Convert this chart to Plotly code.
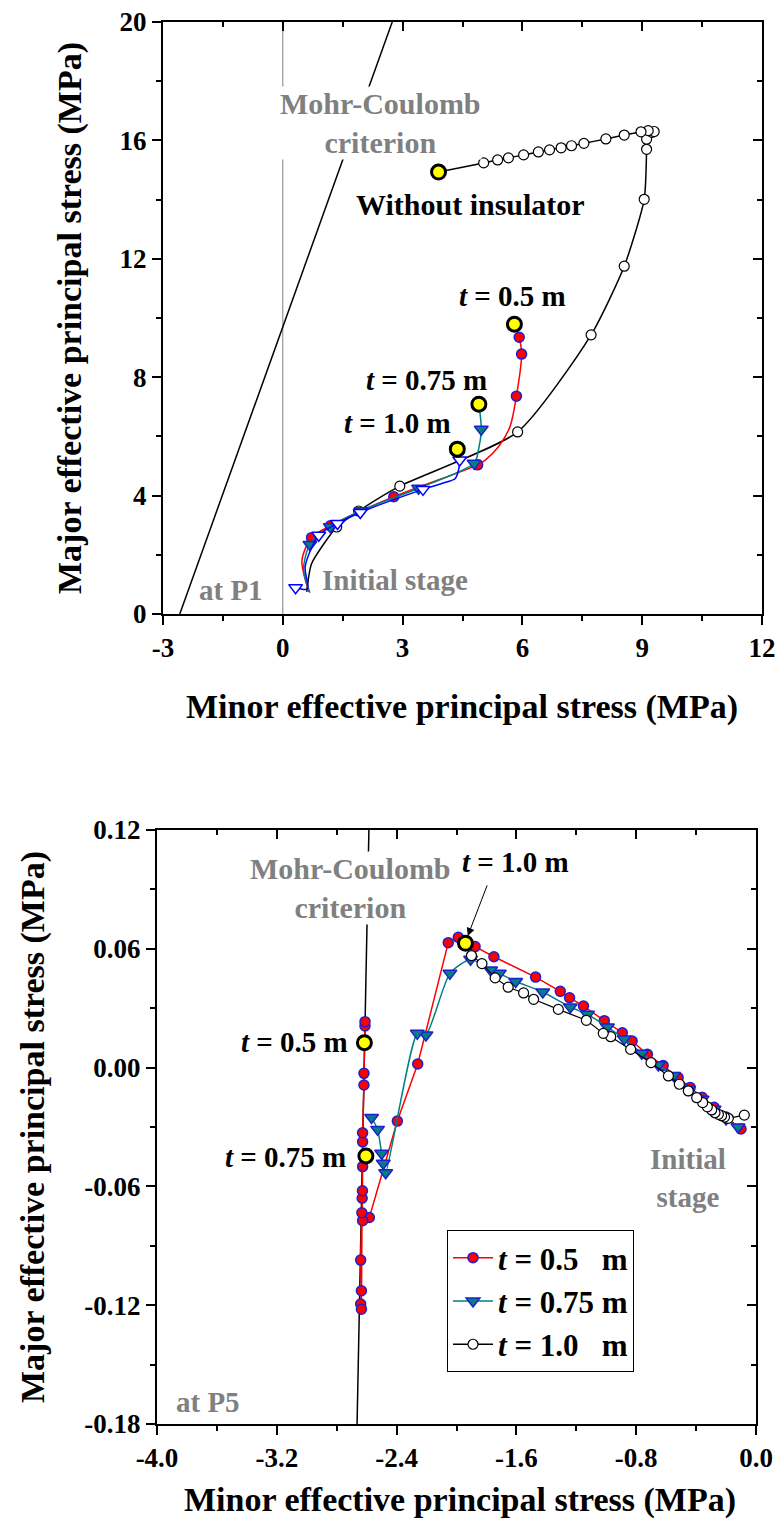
import plotly.graph_objects as go

FONT = "Liberation Serif"
RED = "#ff0000"
TEAL = "#008080"
BLUE = "#0000ff"
EDGE = "#1f1fd0"
GREY = "#808080"

# ================= Top panel (at P1) =================
p1_mc_x = [-2.58, 2.74]
p1_mc_y = [0.0, 20.0]
p1_zero_x = [0.0, 0.0]
p1_zero_y = [0.0, 20.0]

# Without insulator (black line, open circles)
noins_line_x = [0.6, 0.72, 1.35, 1.9, 2.93, 5.88, 7.72, 8.55, 9.05, 9.11, 9.11, 9.25, 9.3, 9.15,
                8.97, 8.55, 8.09, 7.54, 7.23, 6.97, 6.68, 6.4, 6.03, 5.65, 5.38, 5.03, 3.9]
noins_line_y = [0.75, 1.7, 2.94, 3.48, 4.32, 6.15, 9.43, 11.75, 14.01, 15.7, 16.04, 16.27, 16.3, 16.33,
                16.29, 16.18, 16.05, 15.9, 15.82, 15.75, 15.68, 15.61, 15.51, 15.41, 15.34, 15.24, 14.93]
noins_mark_x = [1.35, 1.9, 2.93, 5.88, 7.72, 8.55, 9.05, 9.11, 9.11, 9.25, 9.3, 9.15,
                8.97, 8.55, 8.09, 7.54, 7.23, 6.97, 6.68, 6.4, 6.03, 5.65, 5.38, 5.03]
noins_mark_y = [2.94, 3.48, 4.32, 6.15, 9.43, 11.75, 14.01, 15.7, 16.04, 16.27, 16.3, 16.33,
                16.29, 16.18, 16.05, 15.9, 15.82, 15.75, 15.68, 15.61, 15.51, 15.41, 15.34, 15.24]

# t = 0.5 m (red)
p1_t05_line_x = [0.65, 0.48, 0.72, 1.19, 2.78, 4.88, 5.07, 5.4, 5.69, 5.85, 5.98, 5.92, 5.8]
p1_t05_line_y = [0.75, 1.82, 2.58, 2.98, 3.96, 5.04, 5.2, 5.65, 6.33, 7.36, 8.78, 9.35, 9.79]
p1_t05_mark_x = [0.72, 1.19, 2.78, 4.88, 5.85, 5.98, 5.92]
p1_t05_mark_y = [2.58, 2.98, 3.96, 5.04, 7.36, 8.78, 9.35]

# t = 0.75 m (teal)
p1_t075_line_x = [0.68, 0.52, 0.68, 1.19, 1.96, 3.4, 4.79, 4.9, 4.97, 4.91]
p1_t075_line_y = [0.72, 1.5, 2.35, 2.95, 3.49, 4.25, 5.09, 5.54, 6.24, 7.09]
p1_t075_mark_x = [0.68, 1.19, 1.96, 3.4, 4.79, 4.97]
p1_t075_mark_y = [2.35, 2.95, 3.49, 4.25, 5.09, 6.24]

# t = 1.0 m (blue, open triangles)
p1_t10_line_x = [0.32, 0.62, 0.56, 0.9, 1.37, 1.94, 3.51, 3.98, 4.32, 4.4, 4.43, 4.37]
p1_t10_line_y = [0.89, 0.85, 1.6, 2.66, 3.06, 3.43, 4.21, 4.41, 4.58, 4.86, 5.2, 5.57]
p1_t10_mark_x = [0.32, 0.9, 1.37, 1.94, 3.51, 4.43]
p1_t10_mark_y = [0.89, 2.66, 3.06, 3.43, 4.21, 5.2]

# final states (yellow)
p1_final_x = [3.9, 5.8, 4.91, 4.37]
p1_final_y = [14.93, 9.79, 7.09, 5.57]

p1_xticks = [-3, 0, 3, 6, 9, 12]
p1_xticklabels = ["-3", "0", "3", "6", "9", "12"]
p1_yticks = [0, 4, 8, 12, 16, 20]
p1_yticklabels = ["0", "4", "8", "12", "16", "20"]

# ================= Bottom panel (at P5) =================
p5_mc_x = [-2.664, -2.585]
p5_mc_y = [-0.18, 0.12]

p5_t05_x = [-0.1, -0.2, -0.28, -0.36, -0.44, -0.52, -0.62, -0.725, -0.827, -0.893, -1.013, -1.152,
            -1.245, -1.307, -1.472, -1.75, -1.876, -1.988, -2.055, -2.259, -2.395, -2.582, -2.627,
            -2.632, -2.64, -2.635, -2.64, -2.635, -2.63, -2.628, -2.627, -2.627, -2.627, -2.618,
            -2.618, -2.611, -2.611]
p5_t05_y = [-0.031, -0.025, -0.020, -0.015, -0.010, -0.005, 0.001, 0.0067, 0.0134, 0.0176, 0.0237,
            0.0311, 0.0353, 0.0385, 0.0457, 0.056, 0.0611, 0.0658, 0.0631, 0.0018, -0.027, -0.0757,
            -0.0773, -0.0733, -0.0972, -0.1127, -0.1194, -0.122, -0.066, -0.0622, -0.050, -0.0375,
            -0.0329, -0.0088, -0.0029, 0.021, 0.0232]

p5_t075_x = [-0.12, -0.2, -0.28, -0.36, -0.45, -0.55, -0.652, -0.763, -0.88, -0.992, -1.125, -1.24,
             -1.424, -1.605, -1.714, -1.772, -1.906, -2.044, -2.204, -2.262, -2.473, -2.489, -2.5,
             -2.527, -2.567]
p5_t075_y = [-0.030, -0.026, -0.021, -0.016, -0.011, -0.004, 0.0013, 0.0073, 0.0145, 0.0205, 0.0269,
             0.0306, 0.0382, 0.0435, 0.0476, 0.0493, 0.0547, 0.0476, 0.0165, 0.0173, -0.0531,
             -0.0483, -0.0433, -0.0312, -0.0252]

p5_t10_x = [-0.078, -0.185, -0.21, -0.23, -0.251, -0.274, -0.296, -0.325, -0.356, -0.396, -0.452,
            -0.512, -0.585, -0.701, -0.837, -0.97, -1.02, -1.133, -1.32, -1.485, -1.552, -1.655,
            -1.742, -1.83, -1.9]
p5_t10_y = [-0.024, -0.0256, -0.025, -0.0243, -0.0236, -0.0228, -0.0214, -0.0198, -0.0177, -0.0152,
            -0.0118, -0.0084, -0.0042, 0.0025, 0.0092, 0.0156, 0.0173, 0.0239, 0.0294, 0.0345,
            0.0377, 0.0406, 0.0453, 0.0525, 0.0566]

p5_final_x = [-2.615, -2.605, -1.94]
p5_final_y = [0.0126, -0.0446, 0.0628]

p5_xticks = [-4.0, -3.2, -2.4, -1.6, -0.8, 0.0]
p5_xticklabels = ["-4.0", "-3.2", "-2.4", "-1.6", "-0.8", "0.0"]
p5_yticks = [-0.18, -0.12, -0.06, 0.0, 0.06, 0.12]
p5_yticklabels = ["-0.18", "-0.12", "-0.06", "0.00", "0.06", "0.12"]

legend_names = ["<b><i>t</i> = 0.5\u00a0\u00a0\u00a0m</b>",
                "<b><i>t</i> = 0.75 m</b>",
                "<b><i>t</i> = 1.0\u00a0\u00a0\u00a0m</b>"]

fig = go.Figure()

def red_marker():
    return dict(symbol="circle", size=10, color=RED, line=dict(color=EDGE, width=1.5))

def teal_marker():
    return dict(symbol="triangle-down", size=12, color=TEAL, line=dict(color=EDGE, width=1.5))

def open_circle():
    return dict(symbol="circle", size=10, color="white", line=dict(color="black", width=1.2))

def yellow_marker():
    return dict(symbol="circle", size=14, color="#ffff00", line=dict(color="black", width=3))

# ---- top panel traces ----
fig.add_trace(go.Scatter(x=p1_zero_x, y=p1_zero_y, mode="lines", line=dict(color=GREY, width=1),
                         xaxis="x", yaxis="y", showlegend=False))
fig.add_trace(go.Scatter(x=p1_mc_x, y=p1_mc_y, mode="lines", line=dict(color="black", width=1.5),
                         xaxis="x", yaxis="y", showlegend=False))
fig.add_trace(go.Scatter(x=noins_line_x, y=noins_line_y, mode="lines",
                         line=dict(color="black", width=1.5, shape="spline", smoothing=0.6),
                         xaxis="x", yaxis="y", showlegend=False))
fig.add_trace(go.Scatter(x=noins_mark_x, y=noins_mark_y, mode="markers", marker=open_circle(),
                         xaxis="x", yaxis="y", showlegend=False))
fig.add_trace(go.Scatter(x=p1_t05_line_x, y=p1_t05_line_y, mode="lines",
                         line=dict(color=RED, width=1.5, shape="spline", smoothing=0.8),
                         xaxis="x", yaxis="y", showlegend=False))
fig.add_trace(go.Scatter(x=p1_t05_mark_x, y=p1_t05_mark_y, mode="markers", marker=red_marker(),
                         xaxis="x", yaxis="y", showlegend=False))
fig.add_trace(go.Scatter(x=p1_t075_line_x, y=p1_t075_line_y, mode="lines",
                         line=dict(color=TEAL, width=1.5, shape="spline", smoothing=0.8),
                         xaxis="x", yaxis="y", showlegend=False))
fig.add_trace(go.Scatter(x=p1_t075_mark_x, y=p1_t075_mark_y, mode="markers", marker=teal_marker(),
                         xaxis="x", yaxis="y", showlegend=False))
fig.add_trace(go.Scatter(x=p1_t10_line_x, y=p1_t10_line_y, mode="lines",
                         line=dict(color=BLUE, width=1.5, shape="spline", smoothing=0.8),
                         xaxis="x", yaxis="y", showlegend=False))
fig.add_trace(go.Scatter(x=p1_t10_mark_x, y=p1_t10_mark_y, mode="markers",
                         marker=dict(symbol="triangle-down", size=12, color="white",
                                     line=dict(color=BLUE, width=1.5)),
                         xaxis="x", yaxis="y", showlegend=False))
fig.add_trace(go.Scatter(x=p1_final_x, y=p1_final_y, mode="markers", marker=yellow_marker(),
                         xaxis="x", yaxis="y", showlegend=False))
fig.add_trace(go.Scatter(x=[], y=[], xaxis="x2", yaxis="y2", showlegend=False))

# ---- bottom panel traces ----
fig.add_trace(go.Scatter(x=p5_mc_x, y=p5_mc_y, mode="lines", line=dict(color="black", width=1.5),
                         xaxis="x3", yaxis="y3", showlegend=False))
fig.add_trace(go.Scatter(x=p5_t05_x, y=p5_t05_y, mode="lines+markers",
                         line=dict(color=RED, width=1.5), marker=red_marker(),
                         xaxis="x3", yaxis="y3", showlegend=False))
fig.add_trace(go.Scatter(x=p5_t075_x, y=p5_t075_y, mode="lines+markers",
                         line=dict(color=TEAL, width=1.5, shape="spline", smoothing=0.6),
                         marker=teal_marker(), xaxis="x3", yaxis="y3", showlegend=False))
fig.add_trace(go.Scatter(x=p5_t10_x, y=p5_t10_y, mode="lines+markers",
                         line=dict(color="black", width=1.2), marker=open_circle(),
                         xaxis="x3", yaxis="y3", showlegend=False))
fig.add_trace(go.Scatter(x=p5_final_x, y=p5_final_y, mode="markers", marker=yellow_marker(),
                         xaxis="x3", yaxis="y3", showlegend=False))
fig.add_trace(go.Scatter(x=[], y=[], xaxis="x4", yaxis="y4", showlegend=False))

# legend entries
for name, col, mk in [(legend_names[0], RED, red_marker()),
                      (legend_names[1], TEAL, teal_marker()),
                      (legend_names[2], "black", open_circle())]:
    fig.add_trace(go.Scatter(x=[None], y=[None], mode="lines+markers", name=name,
                             line=dict(color=col, width=1.5), marker=mk,
                             xaxis="x3", yaxis="y3", showlegend=True))

tickfont = dict(family=FONT, size=27, color="black", weight="bold")

def main_axis(domain, anchor, rng, tickvals, ticktext, minor_dtick):
    return dict(domain=domain, anchor=anchor, range=rng, tickmode="array", tickvals=tickvals,
                ticktext=ticktext, ticks="outside", ticklen=9, tickwidth=2, tickcolor="black",
                minor=dict(ticks="outside", dtick=minor_dtick, ticklen=5, tickwidth=2, tickcolor="black"),
                showline=True, linewidth=2, linecolor="black", showgrid=False, zeroline=False,
                tickfont=tickfont, fixedrange=True, automargin=False)

def mirror_axis(overlay, anchor, side, rng, tickvals, minor_dtick):
    return dict(overlaying=overlay, anchor=anchor, side=side, range=rng, tickmode="array",
                tickvals=tickvals, ticks="inside", ticklen=9, tickwidth=2, tickcolor="black",
                minor=dict(ticks="inside", dtick=minor_dtick, ticklen=5, tickwidth=2, tickcolor="black"),
                showline=True, linewidth=2, linecolor="black", showgrid=False, zeroline=False,
                showticklabels=False, fixedrange=True, automargin=False)

W, H = 776, 1532
top_xd = [163 / W, 762 / W]
top_yd = [1 - 614 / H, 1 - 22 / H]
bot_xd = [157 / W, 756 / W]
bot_yd = [1 - 1424 / H, 1 - 830 / H]

fig.update_layout(
    width=W, height=H, margin=dict(l=0, r=0, t=0, b=0, pad=0, autoexpand=False),
    paper_bgcolor="white", plot_bgcolor="white",
    xaxis=main_axis(top_xd, "y", [-3, 12], p1_xticks, p1_xticklabels, 1.5),
    yaxis=main_axis(top_yd, "x", [0, 20], p1_yticks, p1_yticklabels, 2),
    xaxis2=mirror_axis("x", "y", "top", [-3, 12], p1_xticks, 1.5),
    yaxis2=mirror_axis("y", "x", "right", [0, 20], p1_yticks, 2),
    xaxis3=main_axis(bot_xd, "y3", [-4, 0], p5_xticks, p5_xticklabels, 0.4),
    yaxis3=main_axis(bot_yd, "x3", [-0.18, 0.12], p5_yticks, p5_yticklabels, 0.03),
    xaxis4=mirror_axis("x3", "y3", "top", [-4, 0], p5_xticks, 0.4),
    yaxis4=mirror_axis("y3", "x3", "right", [-0.18, 0.12], p5_yticks, 0.03),
    showlegend=True,
    legend=dict(x=447 / W, y=1 - 1230 / H, xanchor="left", yanchor="top",
                bordercolor="black", borderwidth=1, bgcolor="white", itemwidth=40,
                tracegroupgap=4,
                font=dict(family=FONT, size=31, color="black")),
)

def ann(text, x, y, xref, yref, size=29, color="black", bg=None, angle=0):
    d = dict(text=text, x=x, y=y, xref=xref, yref=yref, showarrow=False,
             font=dict(family=FONT, size=size, color=color), textangle=angle,
             xanchor="center", yanchor="middle", borderpad=0)
    if bg:
        d["bgcolor"] = bg
    fig.add_annotation(**d)

# top annotations
ann("<b>Mohr-Coulomb<br>criterion</b>", 2.45, 16.6, "x", "y", size=30, color=GREY, bg="white")
ann("<b>Without insulator</b>", 4.7, 13.82, "x", "y", size=30)
ann("<b><i>t</i> = 0.5 m</b>", 5.75, 10.74, "x", "y")
ann("<b><i>t</i> = 0.75 m</b>", 3.6, 7.9, "x", "y")
ann("<b><i>t</i> = 1.0 m</b>", 2.88, 6.45, "x", "y")
ann("<b>Initial stage</b>", 2.8, 1.15, "x", "y", color=GREY)
ann("<b>at P1</b>", -1.3, 0.81, "x", "y", color=GREY)

# bottom annotations
ann("<b>Mohr-Coulomb<br>criterion</b>", -2.705, 0.0907, "x3", "y3", size=30, color=GREY, bg="white")
ann("<b><i>t</i> = 1.0 m</b>", -1.609, 0.1038, "x3", "y3")
ann("<b><i>t</i> = 0.5 m</b>", -3.085, 0.0129, "x3", "y3")
ann("<b><i>t</i> = 0.75 m</b>", -3.145, -0.0452, "x3", "y3")
ann("<b>Initial<br>stage</b>", -0.454, -0.0558, "x3", "y3", color=GREY)
ann("<b>at P5</b>", -3.66, -0.1689, "x3", "y3", color=GREY)
fig.add_annotation(x=-1.925, y=0.0665, xref="x3", yref="y3", ax=20, ay=-52, text="",
                   showarrow=True, arrowhead=2, arrowsize=1.6, arrowwidth=1, arrowcolor="black")

# axis titles
ttl = "<b>Minor effective principal stress (MPa)</b>"
ttl_y = "<b>Major effective principal stress (MPa)</b>"
ann(ttl, 462 / W, 1 - 707 / H, "paper", "paper", size=34)
ann(ttl_y, 70 / W, 1 - 318 / H, "paper", "paper", size=34, angle=-90)
ann(ttl, 460 / W, 1 - 1500 / H, "paper", "paper", size=34)
ann(ttl_y, 33 / W, 1 - 1127 / H, "paper", "paper", size=34, angle=-90)

fig.write_html("out.html")
